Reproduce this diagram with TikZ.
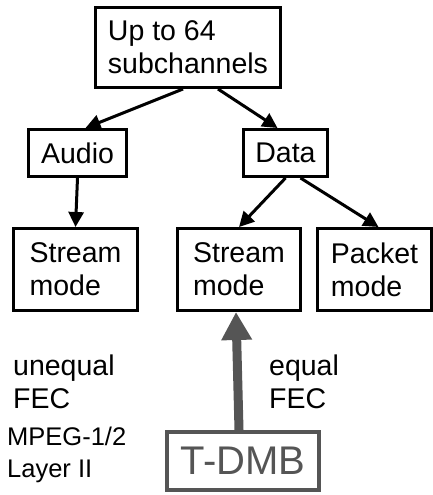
\documentclass[tikz,border=0pt]{standalone}
\usepackage{fontspec}
\setmainfont{Liberation Sans}
\usepackage{tikz}
\usetikzlibrary{arrows.meta,positioning}
\definecolor{mygray}{RGB}{85,85,85}

\begin{document}
\begin{tikzpicture}[x=1pt, y=1pt,
    box/.style={draw, line width=3pt, align=left, inner sep=0pt,
                font=\fontsize{28.5}{33}\selectfont},
    link/.style={line width=3pt, -{Triangle[length=15pt,width=15pt]}},
    lbl/.style={align=left, inner sep=0pt, anchor=north west,
                font=\fontsize{28.5}{33}\selectfont}]
  \useasboundingbox (0,0) rectangle (433,-495);

  % tree of subchannels
  \node[box, minimum width=185, minimum height=80] (top) at (188,-47.5)
    {Up to 64\\subchannels};
  \node[box, minimum width=98, minimum height=47] (audio) at (77.5,-153) {Audio};
  \node[box, minimum width=84, minimum height=47] (data) at (285.5,-153) {Data};
  \node[box, minimum width=124, minimum height=82] (audstream) at (75.5,-269.5)
    {Stream\\mode};
  \node[box, minimum width=123, minimum height=82] (datstream) at (239,-269.5)
    {Stream\\mode};
  \node[box, minimum width=114, minimum height=82] (packet) at (374.5,-269.5)
    {Packet\\mode};

  \draw[link] ([xshift=-5]top.south) -- ([xshift=8]audio.north);
  \draw[link] ([xshift=30]top.south) -- ([xshift=-8]data.north);
  \draw[link] (audio.south) -- (audstream.north);
  \draw[link] (data.south) -- (datstream.north);
  \draw[link] ([xshift=15]data.south) -- ([xshift=4]packet.north);

  % T-DMB on top of the data stream mode
  \node[draw=mygray, text=mygray, line width=4pt, inner sep=0pt,
        minimum width=152, minimum height=58, font=\fontsize{40}{44}\selectfont]
    (tdmb) at (243,-461) {T-DMB};
  \draw[mygray, line width=9pt, -{Triangle[length=28pt,width=29pt]}]
    ([xshift=-4]tdmb.north) -- ([xshift=-3]datstream.south);

  \node[lbl] (unequal) at (13,-354.6) {unequal\\FEC};
  \node[lbl] (equal) at (269,-354.6) {equal\\FEC};
  \node[lbl, font=\fontsize{25.5}{32}\selectfont] (mpeg) at (7,-426.7)
    {MPEG-1/2\\Layer II};
\end{tikzpicture}
\end{document}
